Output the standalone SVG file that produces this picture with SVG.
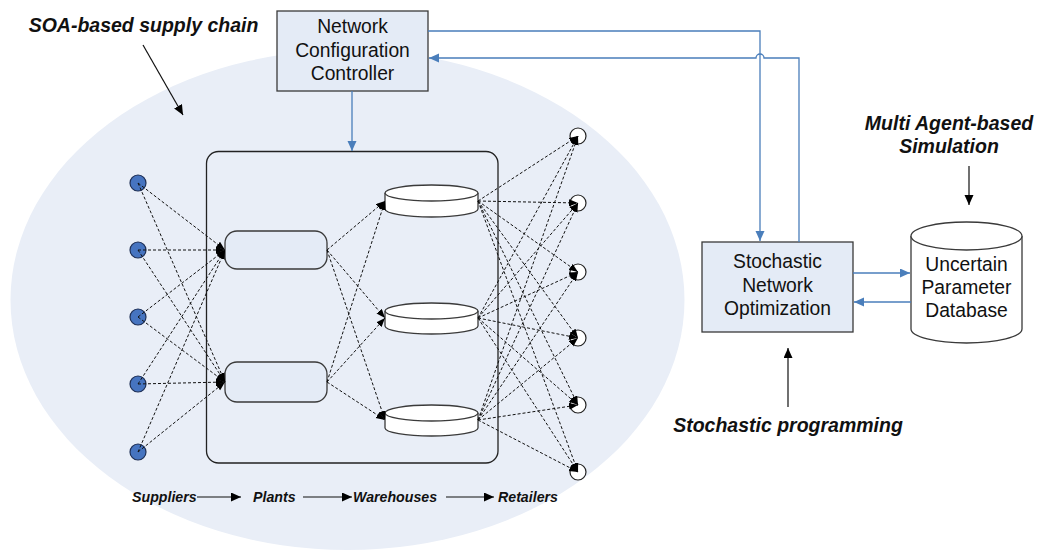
<svg xmlns="http://www.w3.org/2000/svg" width="1040" height="552" viewBox="0 0 1040 552">
<defs>
<style>
.t{font-family:"Liberation Sans",Arial,sans-serif;font-size:19.3px;fill:#111;text-anchor:middle}
.bi{font-family:"Liberation Sans",Arial,sans-serif;font-weight:bold;font-style:italic;fill:#111}
.box{fill:#e4ebf6;stroke:#3a3a3a;stroke-width:1.3}
.plant{fill:#e4ebf6;stroke:#3a3a3a;stroke-width:1.3}
.wh{fill:#fff;stroke:#3a3a3a;stroke-width:1.3}
.sup{fill:#4674c0;stroke:#1e2f55;stroke-width:1.2}
.ret{fill:#fff;stroke:#222;stroke-width:1.2}
.d{stroke:#111;stroke-width:1;stroke-dasharray:3,2;fill:none;marker-end:url(#ah)}
.b{stroke:#4a7ebb;stroke-width:1.3;fill:none}
.k{stroke:#111;stroke-width:1.2;fill:none;marker-end:url(#kh)}
</style>
<marker id="ah" markerUnits="userSpaceOnUse" markerWidth="10" markerHeight="8" refX="9" refY="3.5" orient="auto"><path d="M0,0 L9,3.5 L0,7 z" fill="#000"/></marker>
<marker id="kh" markerUnits="userSpaceOnUse" markerWidth="12" markerHeight="10" refX="10" refY="4.5" orient="auto"><path d="M0,0 L10,4.5 L0,9 z" fill="#000"/></marker>
<marker id="bh" markerUnits="userSpaceOnUse" markerWidth="12" markerHeight="10" refX="10" refY="4.5" orient="auto"><path d="M0,0 L10,4.5 L0,9 z" fill="#4a7ebb"/></marker>
</defs>
<rect width="1040" height="552" fill="#fff"/>
<ellipse cx="347.5" cy="300" rx="337" ry="250" fill="#e9eef7"/>
<g id="supply-chain-frame"><rect x="206.5" y="151.5" width="291.5" height="311.5" rx="12" fill="none" stroke="#222" stroke-width="1.3"/></g>

<g id="ncc"><rect class="box" x="277" y="11" width="151" height="80"/>
<text class="t" x="352.5" y="33">Network</text><text class="t" x="352.5" y="57">Configuration</text><text class="t" x="352.5" y="80">Controller</text></g>

<g id="sno"><rect class="box" x="702" y="242" width="151" height="90"/>
<text class="t" x="777.5" y="268">Stochastic</text><text class="t" x="777.5" y="292">Network</text><text class="t" x="777.5" y="315">Optimization</text></g>

<g id="database"><path d="M911,236 L911,329 A55.5,14 0 0,0 1022,329 L1022,236" fill="#fff" stroke="#3a3a3a" stroke-width="1.3"/>
<ellipse cx="966.5" cy="236" rx="55.5" ry="14" fill="#fff" stroke="#3a3a3a" stroke-width="1.3"/>
<text class="t" x="966.5" y="271">Uncertain</text><text class="t" x="966.5" y="294">Parameter</text><text class="t" x="966.5" y="317">Database</text></g>

<g id="suppliers">
<circle class="sup" cx="138" cy="183" r="8"/><circle class="sup" cx="138" cy="250" r="8"/><circle class="sup" cx="138" cy="317" r="8"/><circle class="sup" cx="138" cy="384" r="8"/><circle class="sup" cx="138" cy="452" r="8"/>
</g>
<g id="plants">
<rect class="plant" x="225" y="231" width="102" height="38" rx="12"/>
<rect class="plant" x="225" y="362" width="102" height="40" rx="12"/>
</g>
<g id="warehouses">
<path class="wh" d="M385,193 L385,209 A46.5,8 0 0,0 478,209 L478,193"/><ellipse class="wh" cx="431.5" cy="193" rx="46.5" ry="8"/>
<path class="wh" d="M385,311 L385,326 A46.5,8 0 0,0 478,326 L478,311"/><ellipse class="wh" cx="431.5" cy="311" rx="46.5" ry="8"/>
<path class="wh" d="M385,413 L385,428 A46.5,8 0 0,0 478,428 L478,413"/><ellipse class="wh" cx="431.5" cy="413" rx="46.5" ry="8"/>
</g>
<g id="retailers">
<circle class="ret" cx="578" cy="136" r="8"/><circle class="ret" cx="578" cy="203" r="8"/><circle class="ret" cx="578" cy="272" r="8"/><circle class="ret" cx="578" cy="338" r="8"/><circle class="ret" cx="578" cy="405" r="8"/><circle class="ret" cx="578" cy="472" r="8"/>
</g>

<g id="connectors">
<path class="d" d="M138,183 L225,250"/><path class="d" d="M138,183 L225,382"/>
<path class="d" d="M138,250 L225,250"/><path class="d" d="M138,250 L225,382"/>
<path class="d" d="M138,317 L225,250"/><path class="d" d="M138,317 L225,382"/>
<path class="d" d="M138,384 L225,250"/><path class="d" d="M138,384 L225,382"/>
<path class="d" d="M138,452 L225,250"/><path class="d" d="M138,452 L225,382"/>
<path class="d" d="M327,250 L385,201"/><path class="d" d="M327,250 L385,318"/><path class="d" d="M327,250 L385,420"/>
<path class="d" d="M327,382 L385,201"/><path class="d" d="M327,382 L385,318"/><path class="d" d="M327,382 L385,420"/>
<path class="d" d="M478,201 L578,136"/><path class="d" d="M478,201 L578,203"/><path class="d" d="M478,201 L578,272"/><path class="d" d="M478,201 L578,338"/><path class="d" d="M478,201 L578,405"/><path class="d" d="M478,201 L578,472"/>
<path class="d" d="M478,318 L578,136"/><path class="d" d="M478,318 L578,203"/><path class="d" d="M478,318 L578,272"/><path class="d" d="M478,318 L578,338"/><path class="d" d="M478,318 L578,405"/><path class="d" d="M478,318 L578,472"/>
<path class="d" d="M478,420 L578,136"/><path class="d" d="M478,420 L578,203"/><path class="d" d="M478,420 L578,272"/><path class="d" d="M478,420 L578,338"/><path class="d" d="M478,420 L578,405"/><path class="d" d="M478,420 L578,472"/>
<path class="b" d="M352,91 L352,151" marker-end="url(#bh)"/>
<path class="b" d="M428,31 L760,31 L760,241" marker-end="url(#bh)"/>
<path class="b" d="M799,242 L799,58 L764,58 A4,4 0 0,0 756,58 L429,58" marker-end="url(#bh)"/>
<path class="b" d="M853,273 L910,273" marker-end="url(#bh)"/>
<path class="b" d="M911,302 L854,302" marker-end="url(#bh)"/>
<path class="k" d="M143,45 L183,115"/>
<path class="k" d="M969,166 L969,205"/>
<path class="k" d="M788,407 L788,348"/>
<path class="k" d="M197,497 L241,497"/>
<path class="k" d="M303,497 L352,497"/>
<path class="k" d="M446,497 L494,497"/>
</g>

<g id="labels">
<text class="bi" x="143.5" y="32" font-size="19.5" text-anchor="middle">SOA-based supply chain</text>
<text class="bi" x="949" y="130" font-size="19.5" text-anchor="middle">Multi Agent-based</text>
<text class="bi" x="949" y="153" font-size="19.5" text-anchor="middle">Simulation</text>
<text class="bi" x="788" y="432" font-size="19.5" text-anchor="middle">Stochastic programming</text>
<text class="bi" x="132" y="502" font-size="14.2">Suppliers</text>
<text class="bi" x="253" y="502" font-size="14.2">Plants</text>
<text class="bi" x="353" y="502" font-size="14.2">Warehouses</text>
<text class="bi" x="498" y="502" font-size="14.2">Retailers</text>
</g>
</svg>
